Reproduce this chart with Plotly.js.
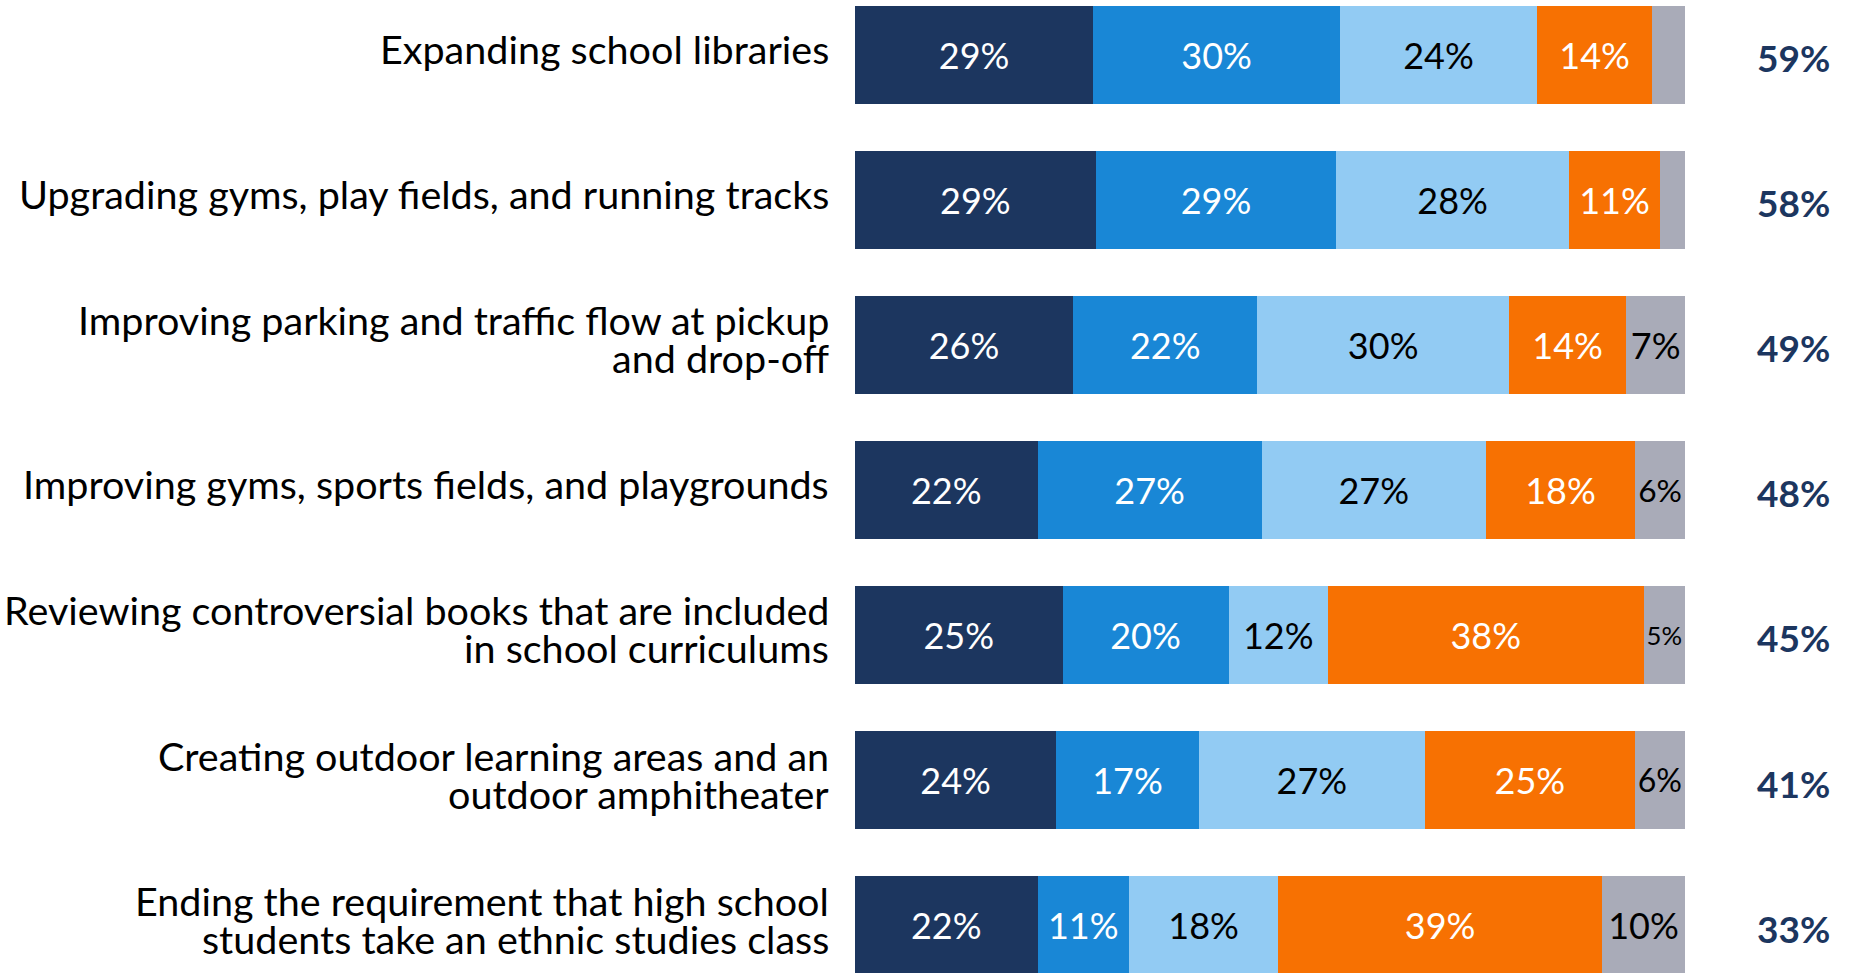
<!DOCTYPE html>
<html>
<head>
<meta charset="utf-8">
<script src="https://cdn.plot.ly/plotly-3.0.1.min.js"></script>
<style>
  html, body { margin: 0; padding: 0; background: #ffffff; }
  #chart { width: 1854px; height: 973px; }
</style>
</head>
<body>
<div id="chart"></div>
<script>
// ---- Data ----
const categories = [
  "Expanding school libraries",
  "Upgrading gyms, play fields, and running tracks",
  "Improving parking and traffic flow at pickup\nand drop-off",
  "Improving gyms, sports fields, and playgrounds",
  "Reviewing controversial books that are included\nin school curriculums",
  "Creating outdoor learning areas and an\noutdoor amphitheater",
  "Ending the requirement that high school\nstudents take an ethnic studies class"
];
const seriesNames = ["Very important", "Somewhat important", "Not too important", "Oppose", "Don't know"];
const veryImportant     = [29, 29, 26, 22, 25, 24, 22];
const somewhatImportant = [30, 29, 22, 27, 20, 17, 11];
const notTooImportant   = [24, 28, 30, 27, 12, 27, 18];
const oppose            = [14, 11, 14, 18, 38, 25, 39];
const dontKnow          = [4, 3, 7, 6, 5, 6, 10];
const totalImportant    = [59, 58, 49, 48, 45, 41, 33];

// ---- Styling ----
const FONT = "Lato, 'Open Sans', sans-serif";
const colors = ["#1c365f", "#1987d6", "#92cbf3", "#f77102", "#a9abb8"];
const textColors = ["#ffffff", "#ffffff", "#000000", "#ffffff", "#000000"];
const seriesValues = [veryImportant, somewhatImportant, notTooImportant, oppose, dontKnow];

const yKeys = categories.map(c => c.replace(/\n/g, " "));

const traces = seriesValues.map((vals, i) => ({
  type: "bar",
  orientation: "h",
  name: seriesNames[i],
  y: yKeys,
  x: vals,
  text: vals.map(v => v < 5 ? "" : v + "%"),
  textposition: "inside",
  insidetextanchor: "middle",
  textangle: 0,
  insidetextfont: { family: FONT, size: 36, color: textColors[i] },
  marker: { color: colors[i], line: { width: 0 } },
  hoverinfo: "skip"
}));

const annotations = [];
categories.forEach((c, idx) => {
  const lines = c.split("\n");
  const n = lines.length;
  lines.forEach((ln, k) => {
    annotations.push({
      xref: "x", yref: "y",
      x: 0, y: yKeys[idx],
      xanchor: "right", yanchor: "middle",
      xshift: -24,
      yshift: 6 + ((n - 1) / 2 - k) * 38,
      text: ln,
      showarrow: false,
      font: { family: FONT, size: 39.5, color: "#000000" }
    });
  });
  annotations.push({
    xref: "paper", yref: "y",
    x: 1, y: yKeys[idx],
    xanchor: "center", yanchor: "middle",
    xshift: 108, yshift: -3,
    text: "<b>" + totalImportant[idx] + "%</b>",
    showarrow: false,
    font: { family: FONT, size: 37, color: "#1c365f" }
  });
});

const layout = {
  width: 1854,
  height: 973,
  margin: { l: 855, r: 169, t: 0, b: 0, pad: 0 },
  paper_bgcolor: "#ffffff",
  plot_bgcolor: "#ffffff",
  barmode: "stack",
  barnorm: "percent",
  bargap: 0.324,
  showlegend: false,
  xaxis: { range: [0, 100], visible: false, fixedrange: true },
  yaxis: {
    type: "category",
    categoryorder: "array",
    categoryarray: yKeys,
    range: [6.331, -0.379],
    visible: false,
    fixedrange: true
  },
  annotations: annotations,
  font: { family: FONT }
};

Plotly.newPlot("chart", traces, layout, { displayModeBar: false, staticPlot: true });
</script>
</body>
</html>
